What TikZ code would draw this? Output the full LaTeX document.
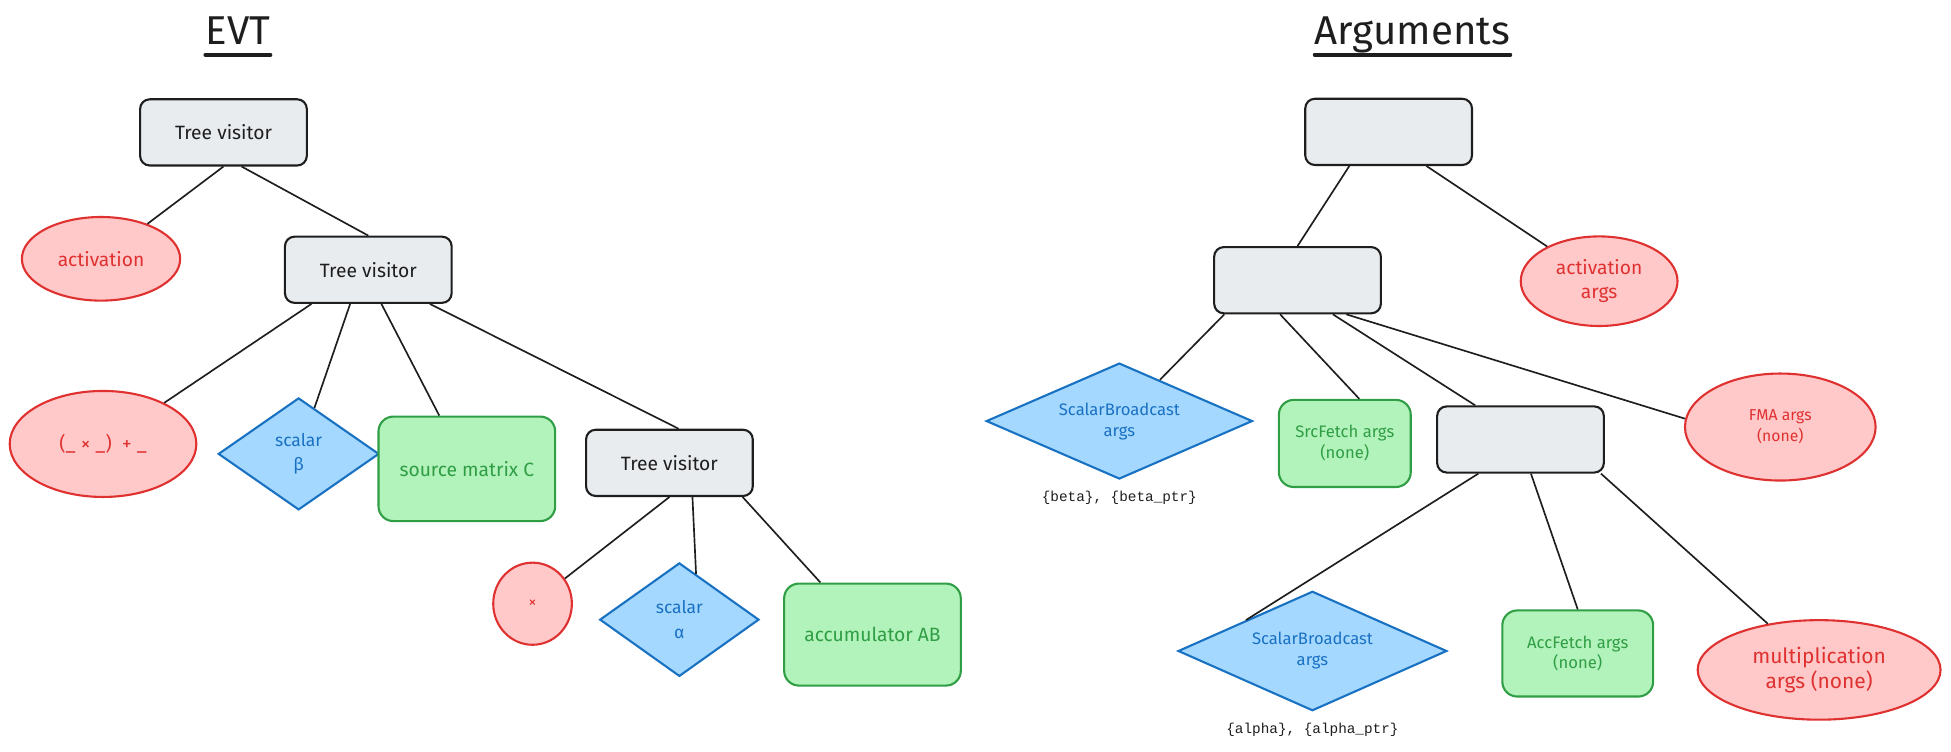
\documentclass[tikz,border=0pt]{standalone}
\usepackage{fontspec}
\setmainfont{Fira Sans}
\newfontfamily\codefont{Liberation Mono}
\usetikzlibrary{positioning}
\usetikzlibrary{shapes.geometric}
\definecolor{visitorFill}{HTML}{E9ECEF}
\definecolor{visitorLine}{HTML}{1E1E1E}
\definecolor{opFill}{HTML}{FFC9C9}
\definecolor{opLine}{HTML}{E03131}
\definecolor{scalFill}{HTML}{A5D8FF}
\definecolor{scalLine}{HTML}{1971C2}
\definecolor{fetchFill}{HTML}{B2F2BB}
\definecolor{fetchLine}{HTML}{2F9E44}
\tikzstyle{visitor} = [rectangle, rounded corners=5.5pt, fill=visitorFill, draw=visitorLine, line width=1.2pt, minimum width=3.35cm, minimum height=1.33cm, inner sep=1pt, text=visitorLine, font=\fontsize{11}{13}\selectfont]
\tikzstyle{opnode} = [ellipse, fill=opFill, draw=opLine, line width=1.2pt, inner sep=0pt, text=opLine, align=center, font=\fontsize{11}{14}\selectfont]
\tikzstyle{scal} = [diamond, fill=scalFill, draw=scalLine, line width=1.2pt, inner sep=0pt, text=scalLine, align=center, font=\fontsize{10}{14}\selectfont]
\tikzstyle{fetch} = [rectangle, rounded corners=8.5pt, fill=fetchFill, draw=fetchLine, line width=1.2pt, inner sep=0pt, text=fetchLine, align=center, font=\fontsize{11}{14}\selectfont]
\tikzstyle{link} = [draw=visitorLine, line width=0.95pt]
\tikzstyle{heading} = [inner sep=0pt, text height=18pt, text depth=5pt, text=visitorLine, font=\fontsize{23}{26}\selectfont]
\tikzstyle{underline} = [draw=visitorLine, line width=2pt, line cap=round]
\tikzstyle{codelbl} = [inner sep=1pt, text=visitorLine, font=\codefont\fontsize{8.2}{10}\selectfont]

\begin{document}
\begin{tikzpicture}[on grid]
\useasboundingbox (0,0) rectangle (39.2,-15.1);

% Headings
\node[heading, anchor=base] (ttlE) at (4.78,-0.9)  {EVT};
\node[heading, anchor=base] (ttlA) at (28.38,-0.9) {Arguments};
\draw[underline] ([yshift=-5.7pt]ttlE.base west) -- ([yshift=-5.7pt]ttlE.base east);
\draw[underline] ([yshift=-5.7pt]ttlA.base west) -- ([yshift=-5.7pt]ttlA.base east);

% Define nodes (EVT)
\node[visitor] (tvA) at (4.49,-2.66) {Tree visitor};
\node[opnode, minimum width=3.18cm, minimum height=1.68cm, below left  = 2.54cm and 2.46cm of tvA] (actL)  {activation};
\node[visitor,                                             below right = 2.76cm and 2.91cm of tvA] (tvB)   {Tree visitor};
\node[opnode, minimum width=3.75cm, minimum height=2.13cm, below left  = 3.5cm and 5.33cm of tvB]  (mac)   {(\_ × \_)~~+ \_};
\node[scal,   minimum width=3.23cm, minimum height=2.25cm, below left  = 3.7cm and 1.4cm of tvB]   (beta)  {scalar\\β};
\node[fetch,  minimum width=3.55cm, minimum height=2.1cm,  below right = 4.0cm and 1.98cm of tvB]  (srcC)  {source matrix C};
\node[visitor,                                             below right = 3.88cm and 6.05cm of tvB] (tvC)   {Tree visitor};
\node[opnode, minimum width=1.58cm, minimum height=1.65cm, below left  = 2.83cm and 2.75cm of tvC, font=\fontsize{9}{10}\selectfont] (mul) {×};
\node[scal,   minimum width=3.2cm,  minimum height=2.28cm, below right = 3.15cm and 0.2cm of tvC]  (alpha) {scalar\\α};
\node[fetch,  minimum width=3.55cm, minimum height=2.05cm, below right = 3.45cm and 4.08cm of tvC] (acc)   {accumulator AB};

% Define nodes (Arguments)
\node[visitor] (argA) at (27.9,-2.65) {};
\node[visitor,                                             below left  = 2.98cm and 1.83cm of argA] (argB) {};
\node[opnode, minimum width=3.15cm, minimum height=1.8cm,  below right = 3.0cm and 4.23cm of argA]  (actR) {activation\\args};
\node[scal, aspect=2.3, minimum width=5.35cm, minimum height=2.33cm, below left = 2.83cm and 3.58cm of argB, font=\fontsize{9.5}{12}\selectfont] (sbB) {ScalarBroadcast\\args};
\node[codelbl, below = 1.55cm of sbB] (sbBlbl) {\{beta\}, \{beta\_ptr\}};
\node[fetch,  minimum width=2.65cm, minimum height=1.75cm, below right = 3.28cm and 0.95cm of argB, font=\fontsize{9.5}{12}\selectfont] (srcF) {SrcFetch args\\(none)};
\node[visitor,                                             below right = 3.2cm and 4.48cm of argB]  (argC) {};
\node[opnode, minimum width=3.83cm, minimum height=2.15cm, below right = 2.95cm and 9.7cm of argB, font=\fontsize{9}{12}\selectfont] (fmaR) {FMA args\\(none)};
\node[scal, aspect=2.25, minimum width=5.4cm, minimum height=2.4cm, below left = 4.25cm and 4.18cm of argC, font=\fontsize{9.5}{12}\selectfont] (sbA) {ScalarBroadcast\\args};
\node[codelbl, below = 1.58cm of sbA] (sbAlbl) {\{alpha\}, \{alpha\_ptr\}};
\node[fetch,  minimum width=3.03cm, minimum height=1.73cm, below right = 4.3cm and 1.15cm of argC, font=\fontsize{9.5}{12}\selectfont] (accF) {AccFetch args\\(none)};
\node[opnode, minimum width=4.88cm, minimum height=2.0cm,  below right = 4.63cm and 6.0cm of argC, font=\fontsize{12}{14}\selectfont] (mulR) {multiplication\\args (none)};

% Edges
\foreach \from/\to in {tvA.south/actL, tvA.298/tvB.north, tvB.211/mac, tvB.242/beta, tvB.291/srcC,
                       tvB.331/tvC.75, tvC.south/mul, tvC.304/alpha.70, tvC.335/acc.135,
                       argA.221/argB.north, argA.318/actR, argB.205/sbB, argB.243/srcF.72,
                       argB.316/argC.143, argB.325/fmaR.175, argC.219/sbA.155, argC.287/accF.north,
                       argC.337/mulR}
  \draw[link] (\from) -- (\to);
\end{tikzpicture}
\end{document}
